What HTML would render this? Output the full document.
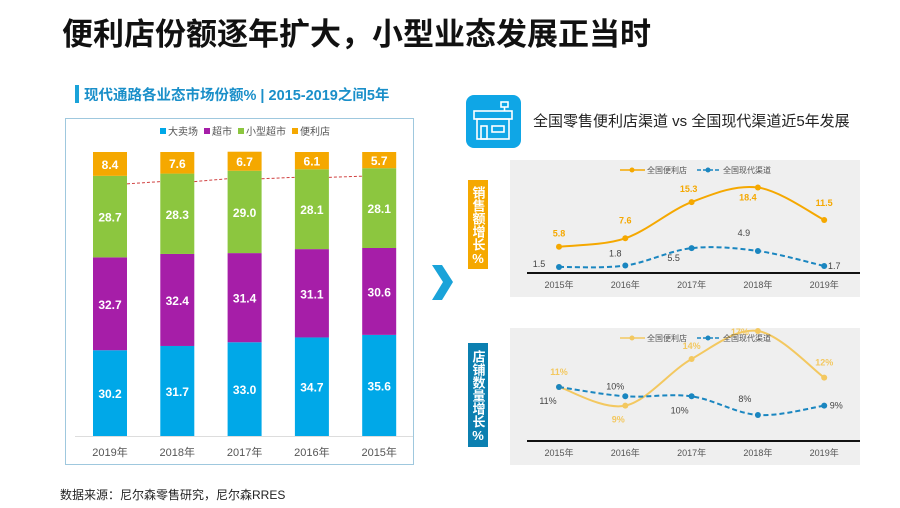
<!DOCTYPE html>
<html><head><meta charset="utf-8">
<style>
html,body{margin:0;padding:0;background:#fff;}
svg{display:block;font-family:"Liberation Sans","Noto Sans CJK SC",sans-serif;}
.vt{writing-mode:vertical-rl;text-orientation:upright;}
</style></head>
<body>
<svg id="s" width="900" height="508" viewBox="0 0 900 508" xmlns="http://www.w3.org/2000/svg">
<text x="62" y="45" font-size="31" font-weight="bold" fill="#111">便利店份额逐年扩大，小型业态发展正当时</text>
<rect x="75" y="85" width="4" height="18" fill="#1aa3d9"/>
<text x="84" y="100" font-size="14.5" font-weight="bold" fill="#1a8fc9">现代通路各业态市场份额% | 2015-2019之间5年</text>
<rect x="65.5" y="118.5" width="348" height="346" fill="#fff" stroke="#9fc8de" stroke-width="1"/>
<g id="left"></g>

<path d="M432 265 L442 265 L453 282 L442 300 L432 300 L443 282 Z" fill="#1aa3d9"/>

<g>
<rect x="466" y="95" width="55" height="53" rx="8" fill="#0fa6e6"/>
<g fill="none" stroke="#fff" stroke-width="1.6">
<rect x="501" y="102" width="7" height="5"/><line x1="504.5" y1="107" x2="504.5" y2="111"/>
<rect x="474" y="111" width="38" height="8"/>
<rect x="477" y="119" width="32" height="20"/>
<rect x="481" y="126" width="6" height="13"/><rect x="492" y="126" width="12" height="6"/>
</g></g>
<text x="533" y="126" font-size="15" fill="#222">全国零售便利店渠道 vs 全国现代渠道近5年发展</text>

<rect x="510" y="160" width="350" height="137" fill="#efefef"/>
<rect x="510" y="328" width="350" height="137" fill="#efefef"/>
<rect x="468" y="180" width="20" height="89" fill="#f5a800"/>
<text class="vt" x="478" y="186" font-size="13" font-weight="bold" fill="#fff">销售额增长%</text>
<rect x="468" y="343" width="20" height="104" fill="#0b7fb0"/>
<text class="vt" x="478" y="350" font-size="13" font-weight="bold" fill="#fff">店铺数量增长%</text>
<g id="right"></g>

<text x="60" y="499" font-size="12" fill="#222">数据来源：尼尔森零售研究，尼尔森RRES</text>
</svg>
<script>
const barYears=["2019年","2018年","2017年","2016年","2015年"];
const hyper=[30.2,31.7,33.0,34.7,35.6];
const superm=[32.7,32.4,31.4,31.1,30.6];
const mini=[28.7,28.3,29.0,28.1,28.1];
const conv=[8.4,7.6,6.7,6.1,5.7];
const lineYears=["2015年","2016年","2017年","2018年","2019年"];
const salesConv=[5.8,7.6,15.3,18.4,11.5];
const salesModern=[1.5,1.8,5.5,4.9,1.7];
const storesConv=[11,9,14,17,12];
const storesModern=[11,10,10,8,9];

const NS="http://www.w3.org/2000/svg";
function mk(p,t,a){const e=document.createElementNS(NS,t);for(const k in a)e.setAttribute(k,a[k]);p.appendChild(e);return e;}
function tx(p,x,y,s,a){const e=mk(p,"text",Object.assign({x:x,y:y},a));e.textContent=s;return e;}

const L=document.getElementById("left");
const bx=i=>110+i*67.3, bw=34, base=436, k=2.84, by=v=>base-v*k;
mk(L,"line",{x1:75,y1:436.5,x2:413,y2:436.5,stroke:"#ddd"});
const legItems=[["大卖场","#00a8e8"],["超市","#a61ea8"],["小型超市","#8cc63f"],["便利店","#f5a800"]];
let lx=160;
legItems.forEach(function(it){
  const g=mk(L,"g",{});
  
  
  mk(g,"rect",{x:lx,y:128,width:6,height:6,fill:it[1]});
  tx(g,lx+8,135,it[0],{"font-size":10,fill:"#555"});
  lx+=8+it[0].length*10+6;
});
const series=[[hyper,"#00a8e8"],[superm,"#a61ea8"],[mini,"#8cc63f"],[conv,"#f5a800"]];
barYears.forEach(function(y,i){
  let cum=0;
  series.forEach(function(s,j){
    const v=s[0][i];
    const r=mk(L,"rect",{x:bx(i)-bw/2,y:by(cum+v),width:bw,height:v*k,fill:s[1]});
    
    
    const t=tx(L,bx(i),by(cum+v/2)+5,v.toFixed(1),{"font-size":12,"font-weight":"bold",fill:"#fff","text-anchor":"middle"});
    
    
    cum+=v;
  });
  const xl=tx(L,bx(i),456,y,{"font-size":11,fill:"#555","text-anchor":"middle"});
  
  
  if(i<barYears.length-1){
    const t1=by(hyper[i]+superm[i]+mini[i]), t2=by(hyper[i+1]+superm[i+1]+mini[i+1]);
    const d=mk(L,"line",{x1:bx(i)+bw/2,y1:t1+8,x2:bx(i+1)-bw/2,y2:t2+8,stroke:"#d04040","stroke-dasharray":"3,2","stroke-width":1});
    
    
  }
});

const R=document.getElementById("right");
const lxp=i=>559+i*66.3;
function smooth(pts){
  let d="M"+pts[0][0]+" "+pts[0][1];
  for(let i=0;i<pts.length-1;i++){
    const p0=pts[i-1]||pts[i],p1=pts[i],p2=pts[i+1],p3=pts[i+2]||p2;
    const c1=[p1[0]+(p2[0]-p0[0])/6,p1[1]+(p2[1]-p0[1])/6],c2=[p2[0]-(p3[0]-p1[0])/6,p2[1]-(p3[1]-p1[1])/6];
    d+=" C"+c1[0]+" "+c1[1]+" "+c2[0]+" "+c2[1]+" "+p2[0]+" "+p2[1];
  }
  return d;
}
function chart(top,yf,conv,modern,suf,convOff,modOff,convCol){
  mk(R,"line",{x1:527,y1:top+113,x2:860,y2:top+113,stroke:"#111","stroke-width":2});
  lineYears.forEach(function(y,i){
    const t=tx(R,lxp(i),top+128,y,{"font-size":9,fill:"#555","text-anchor":"middle"});
    
    
  });
  const pc=conv.map((v,i)=>[lxp(i),yf(v)]), pm=modern.map((v,i)=>[lxp(i),yf(v)]);
  const a=mk(R,"path",{d:smooth(pc),fill:"none",stroke:convCol,"stroke-width":2});
  
  
  const b=mk(R,"path",{d:smooth(pm),fill:"none",stroke:"#1a86c0","stroke-width":2,"stroke-dasharray":"5,3"});
  
  
  pc.forEach(function(p,i){
    const c=mk(R,"circle",{cx:p[0],cy:p[1],r:3,fill:convCol});
    
    
    const t=tx(R,p[0]+convOff[i][0],p[1]+convOff[i][1],conv[i]+suf,{"font-size":9,fill:convCol,"text-anchor":"middle","font-weight":"bold"});
    
    
  });
  pm.forEach(function(p,i){
    const c=mk(R,"circle",{cx:p[0],cy:p[1],r:3,fill:"#1a86c0"});
    
    
    const t=tx(R,p[0]+modOff[i][0],p[1]+modOff[i][1],modern[i]+suf,{"font-size":9,fill:"#444","text-anchor":"middle"});
    
    
  });
  const lg=mk(R,"g",{});
  
  
  mk(lg,"line",{x1:620,y1:top+10,x2:645,y2:top+10,stroke:convCol,"stroke-width":1.5});
  mk(lg,"circle",{cx:632,cy:top+10,r:2.5,fill:convCol});
  tx(lg,647,top+13,"全国便利店",{"font-size":8,fill:"#555"});
  mk(lg,"line",{x1:697,y1:top+10,x2:720,y2:top+10,stroke:"#1a86c0","stroke-width":1.5,"stroke-dasharray":"4,2"});
  mk(lg,"circle",{cx:708,cy:top+10,r:2.5,fill:"#1a86c0"});
  tx(lg,723,top+13,"全国现代渠道",{"font-size":8,fill:"#555"});
}
chart(160,v=>274-v*4.7,salesConv,salesModern,"",
  [[0,-10],[0,-15],[-3,-10],[-10,13],[0,-14]],
  [[-20,0],[-10,-9],[-18,13],[-14,-15],[10,3]],"#f5a800");
chart(328,v=>489.6-v*9.33,storesConv,storesModern,"%",
  [[0,-12],[-7,17],[0,-10],[-18,4],[0,-12]],
  [[-11,17],[-10,-7],[-12,17],[-13,-13],[12,3]],"#f3c860");
</script>
</body></html>
